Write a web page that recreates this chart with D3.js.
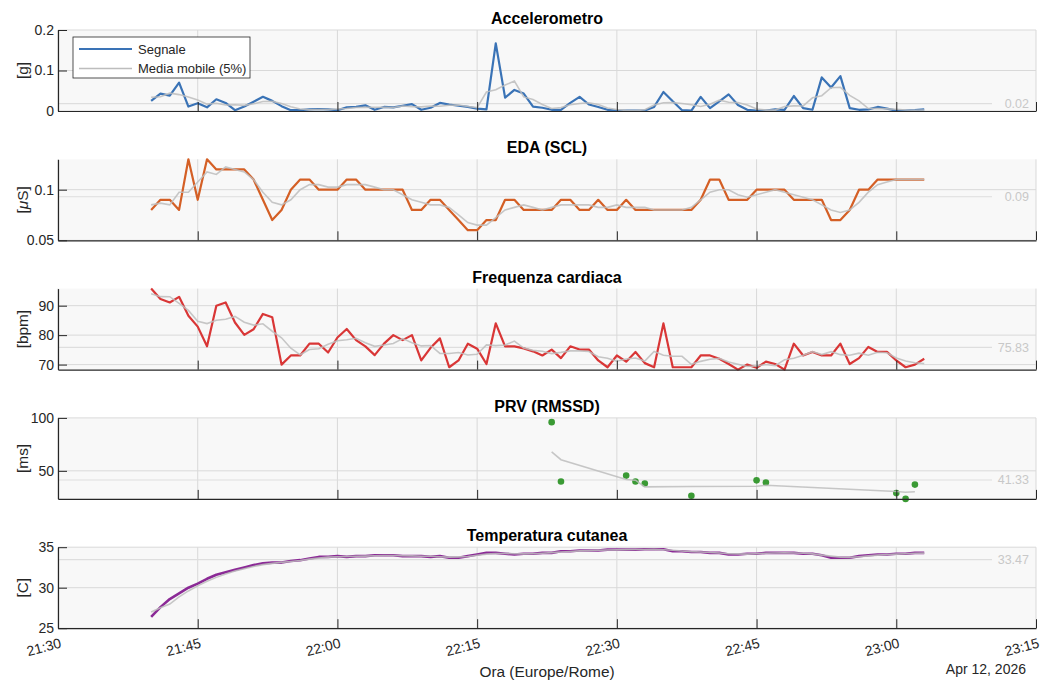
<!DOCTYPE html>
<html>
<head>
<meta charset="utf-8">
<script src="https://cdn.jsdelivr.net/npm/d3@7"></script>
<style>
body { margin: 0; background: #fff; }
svg { font-family: "Liberation Sans", Arial, Helvetica, sans-serif; }
</style>
</head>
<body>
<div class="sh"></div>
<script>
// samples every minute from 21:40
var sampleStart = "21:40",
    sampleStepMin = 1;

var accValues = [0.025, 0.043, 0.038, 0.07, 0.011, 0.019, 0.009, 0.029, 0.02, 0.002,
    0.011, 0.023, 0.035, 0.025, 0.012, 0.002, 0.002, 0.004, 0.005, 0.004,
    0.002, 0.009, 0.01, 0.014, 0.003, 0.01, 0.009, 0.013, 0.017, 0.003,
    0.008, 0.02, 0.016, 0.013, 0.01, 0.006, 0.004, 0.167, 0.033, 0.052,
    0.043, 0.011, 0.008, 0.003, 0.003, 0.02, 0.035, 0.016, 0.01, 0.003,
    0.001, 0.001, 0.001, 0.001, 0.01, 0.047, 0.024, 0.002, 0.001, 0.035,
    0.007, 0.024, 0.041, 0.015, 0.003, 0.001, 0.001, 0.004, 0.003, 0.037,
    0.007, 0.003, 0.083, 0.058, 0.086, 0.007, 0.003, 0.004, 0.01, 0.006,
    0.001, 0.001, 0.002, 0.004];

var edaValues = [0.08, 0.09, 0.09, 0.08, 0.13, 0.09, 0.13, 0.12, 0.12, 0.12,
    0.12, 0.11, 0.09, 0.07, 0.08, 0.10, 0.11, 0.11, 0.10, 0.10,
    0.10, 0.11, 0.11, 0.10, 0.10, 0.10, 0.10, 0.10, 0.08, 0.08,
    0.09, 0.09, 0.08, 0.07, 0.06, 0.06, 0.07, 0.07, 0.09, 0.09,
    0.08, 0.08, 0.08, 0.08, 0.09, 0.09, 0.08, 0.08, 0.09, 0.08,
    0.08, 0.09, 0.08, 0.08, 0.08, 0.08, 0.08, 0.08, 0.08, 0.09,
    0.11, 0.11, 0.09, 0.09, 0.09, 0.10, 0.10, 0.10, 0.10, 0.09,
    0.09, 0.09, 0.09, 0.07, 0.07, 0.08, 0.10, 0.10, 0.11, 0.11,
    0.11, 0.11, 0.11, 0.11];

var hrValues = [95.8, 92.3, 91.1, 93.0, 86.6, 82.9, 76.2, 90.0, 91.1, 84.3,
    80.1, 82.0, 87.2, 86.1, 70.0, 73.1, 73.1, 77.1, 77.1, 74.1,
    79.2, 82.1, 78.3, 76.2, 73.2, 77.1, 80.0, 78.3, 80.0, 71.4,
    75.7, 78.9, 69.1, 71.4, 77.1, 75.4, 70.2, 84.0, 76.2, 76.2,
    75.5, 74.5, 73.1, 75.1, 72.2, 76.2, 75.1, 75.1, 71.4, 69.1,
    73.1, 71.0, 74.3, 70.5, 69.1, 84.0, 69.1, 69.1, 69.1, 73.1,
    73.1, 72.0, 70.2, 68.3, 70.0, 68.9, 71.0, 70.2, 68.3, 77.1,
    73.1, 74.3, 73.1, 73.1, 77.1, 70.2, 72.2, 76.0, 74.3, 74.3,
    71.4, 69.1, 70.0, 72.0];

var tempValues = [26.4, 27.6, 28.6, 29.3, 30.0, 30.5, 31.1, 31.6, 31.9, 32.2,
    32.5, 32.8, 33.0, 33.1, 33.1, 33.3, 33.4, 33.6, 33.8, 33.8,
    33.9, 33.8, 33.9, 33.9, 34.0, 34.0, 34.0, 33.9, 33.9, 33.9,
    33.8, 33.9, 33.7, 33.7, 33.9, 34.1, 34.3, 34.3, 34.2, 34.1,
    34.2, 34.2, 34.3, 34.3, 34.5, 34.5, 34.6, 34.6, 34.6, 34.7,
    34.7, 34.7, 34.7, 34.75, 34.75, 34.75, 34.5, 34.5, 34.4, 34.4,
    34.3, 34.3, 34.1, 34.1, 34.2, 34.2, 34.3, 34.3, 34.3, 34.3,
    34.2, 34.2, 34.0, 33.7, 33.7, 33.7, 33.9, 34.0, 34.1, 34.1,
    34.2, 34.2, 34.3, 34.3];

var prvTimes = ["22:23", "22:24", "22:31", "22:32", "22:33", "22:38", "22:45", "22:46", "23:00", "23:01", "23:02"];
var prvValues = [96, 40, 45.5, 40, 38, 26.5, 41, 39, 29, 23.5, 37];

var meanValues = [0.018, 0.093, 75.83, 41.33, 33.47];
var panelTitles = ["Accelerometro", "EDA (SCL)", "Frequenza cardiaca", "PRV (RMSSD)", "Temperatura cutanea"];
var unitLabels = ["[g]", "[\u03bcS]", "[bpm]", "[ms]", "[C]"];
var yDomains = [[0, 0.2], [0.05, 0.13], [68.3, 95.8], [23.5, 100], [25, 35]];
var yTicks = [[0, 0.1, 0.2], [0.05, 0.1], [70, 80, 90], [50, 100], [25, 30, 35]];
var xTickLabels = ["21:30", "21:45", "22:00", "22:15", "22:30", "22:45", "23:00", "23:15"];
var legendLabels = ["Segnale", "Media mobile (5%)"];
var xLabel = "Ora (Europe/Rome)",
    dateLabel = "Apr 12, 2026";
var colors = ["#3a73b6", "#d45f25", "#d93636", "#3a9a34", "#8b2a96"],
    avgColor = "#bdbdbd";

var margin = { top: 30, left: 58 },
    width = 978,
    panelHeight = 81,
    panelStep = 129.3;

function toDate(hm) {
    var p = hm.split(":");
    return new Date(Date.UTC(2026, 3, 12, +p[0], +p[1]));
}

function sampleTimes(n) {
    var t0 = toDate(sampleStart).getTime();
    return d3.range(n).map(function (i) { return new Date(t0 + i * sampleStepMin * 60000); });
}

// moving mean like matlab movmean (even windows take one more point before)
function movmean(arr) {
    var k = Math.max(3, Math.round(arr.length * 0.05));
    var before = Math.floor(k / 2), after = Math.ceil(k / 2) - 1;
    return arr.map(function (d, i) {
        return d3.mean(arr.slice(Math.max(0, i - before), Math.min(arr.length, i + after + 1)));
    });
}

var series = [
    { times: sampleTimes(accValues.length), values: accValues, dots: false },
    { times: sampleTimes(edaValues.length), values: edaValues, dots: false },
    { times: sampleTimes(hrValues.length), values: hrValues, dots: false },
    { times: prvTimes.map(toDate), values: prvValues, dots: true },
    { times: sampleTimes(tempValues.length), values: tempValues, dots: false }
];

var xTicks = xTickLabels.map(toDate);
var x = d3.scaleUtc()
    .domain([xTicks[0], xTicks[xTicks.length - 1]])
    .range([0, width]);

var svg = d3.select(".sh").append("svg")
    .attr("width", 1043)
    .attr("height", 681);

series.forEach(function (s, i) {
    var y = d3.scaleLinear().domain(yDomains[i]).range([panelHeight, 0]);
    var g = svg.append("g")
        .attr("transform", "translate(" + margin.left + "," + (margin.top + i * panelStep) + ")");

    g.append("rect")
        .attr("width", width)
        .attr("height", panelHeight)
        .attr("fill", "#f8f8f8");

    // grid
    g.selectAll(".vgrid").data(xTicks).enter().append("line")
        .attr("x1", function (d) { return x(d); })
        .attr("x2", function (d) { return x(d); })
        .attr("y1", 0).attr("y2", panelHeight)
        .attr("stroke", "#d9d9d9").attr("stroke-width", 1);
    g.selectAll(".hgrid").data(yTicks[i]).enter().append("line")
        .attr("x1", 0).attr("x2", width)
        .attr("y1", function (d) { return y(d); })
        .attr("y2", function (d) { return y(d); })
        .attr("stroke", "#d9d9d9").attr("stroke-width", 1);

    // mean line + label
    g.append("line")
        .attr("x1", 0).attr("x2", 934)
        .attr("y1", y(meanValues[i])).attr("y2", y(meanValues[i]))
        .attr("stroke", "#dedede").attr("stroke-width", 1.2);
    g.append("text")
        .attr("x", 971).attr("y", y(meanValues[i]))
        .attr("dy", "0.35em")
        .attr("text-anchor", "end")
        .attr("font-size", 12.5)
        .attr("fill", "#c8c8c8")
        .text(meanValues[i].toFixed(2));

    var line = d3.line()
        .x(function (d, j) { return x(s.times[j]); })
        .y(function (d) { return y(d); });

    if (s.dots) {
        g.selectAll(".dot").data(s.values).enter().append("circle")
            .attr("cx", function (d, j) { return x(s.times[j]); })
            .attr("cy", function (d) { return y(d); })
            .attr("r", 3.3)
            .attr("fill", colors[i]);
    } else {
        g.append("path")
            .datum(s.values)
            .attr("fill", "none")
            .attr("stroke", colors[i])
            .attr("stroke-width", i === 4 ? 2.6 : 2.2)
            .attr("stroke-linejoin", "round")
            .attr("d", line);
    }

    g.append("path")
        .datum(movmean(s.values))
        .attr("fill", "none")
        .attr("stroke", avgColor)
        .attr("stroke-opacity", 0.85)
        .attr("stroke-width", 1.6)
        .attr("d", line);

    // axes
    var yAxis = g.append("g")
        .call(d3.axisLeft(y).tickValues(yTicks[i]).tickSize(-9).tickSizeOuter(0).tickPadding(4)
            .tickFormat(function (d) { return String(d); }));
    var xAxis = g.append("g")
        .attr("transform", "translate(0," + panelHeight + ")")
        .call(d3.axisBottom(x).tickValues(xTicks).tickSize(-9).tickSizeOuter(0).tickFormat(""));
    [yAxis, xAxis].forEach(function (a) {
        a.select(".domain").attr("stroke", "#262626").attr("stroke-width", 1.2);
        a.selectAll(".tick line").attr("stroke", "#262626");
        a.selectAll("text").attr("fill", "#262626").attr("font-size", 14)
            .attr("font-family", "Liberation Sans, Arial, sans-serif");
    });

    g.append("text")
        .attr("x", width / 2).attr("y", -6)
        .attr("text-anchor", "middle")
        .attr("font-size", 16)
        .attr("font-weight", "bold")
        .attr("fill", "#000")
        .text(panelTitles[i]);

    var ul = g.append("text")
        .attr("transform", "translate(-30," + (panelHeight / 2) + ") rotate(-90)")
        .attr("text-anchor", "middle")
        .attr("font-size", 15.4)
        .attr("fill", "#262626");
    if (i === 1) {
        ul.append("tspan").text("[");
        ul.append("tspan").attr("font-style", "italic").text("\u03bc");
        ul.append("tspan").text("S]");
    } else {
        ul.text(unitLabels[i]);
    }

    if (i === 0) {
        var lg = g.append("g").attr("transform", "translate(15,7)");
        lg.append("rect")
            .attr("width", 177).attr("height", 41)
            .attr("fill", "#fff").attr("stroke", "#262626").attr("stroke-width", 0.8);
        legendLabels.forEach(function (lab, k) {
            var ly = 12 + k * 19.5;
            lg.append("line")
                .attr("x1", 6).attr("x2", 59)
                .attr("y1", ly).attr("y2", ly)
                .attr("stroke", k === 0 ? colors[0] : avgColor)
                .attr("stroke-width", k === 0 ? 2.2 : 1.6);
            lg.append("text")
                .attr("x", 65).attr("y", ly).attr("dy", "0.35em")
                .attr("font-size", 13).attr("fill", "#262626")
                .text(lab);
        });
    }
});

// x tick labels under last panel
var bottom = margin.top + 4 * panelStep + panelHeight;
svg.selectAll(".xt").data(xTicks).enter().append("text")
    .attr("transform", function (d, i) {
        return "translate(" + (margin.left + x(d) + 4) + "," + (bottom + 19) + ") rotate(-15)";
    })
    .attr("text-anchor", "end")
    .attr("font-size", 14)
    .attr("fill", "#262626")
    .text(function (d, i) { return xTickLabels[i]; });

svg.append("text")
    .attr("x", margin.left + width / 2).attr("y", 677)
    .attr("text-anchor", "middle")
    .attr("font-size", 15.4)
    .attr("fill", "#262626")
    .text(xLabel);

svg.append("text")
    .attr("x", 1026).attr("y", 674)
    .attr("text-anchor", "end")
    .attr("font-size", 14)
    .attr("fill", "#262626")
    .text(dateLabel);
</script>
</body>
</html>
